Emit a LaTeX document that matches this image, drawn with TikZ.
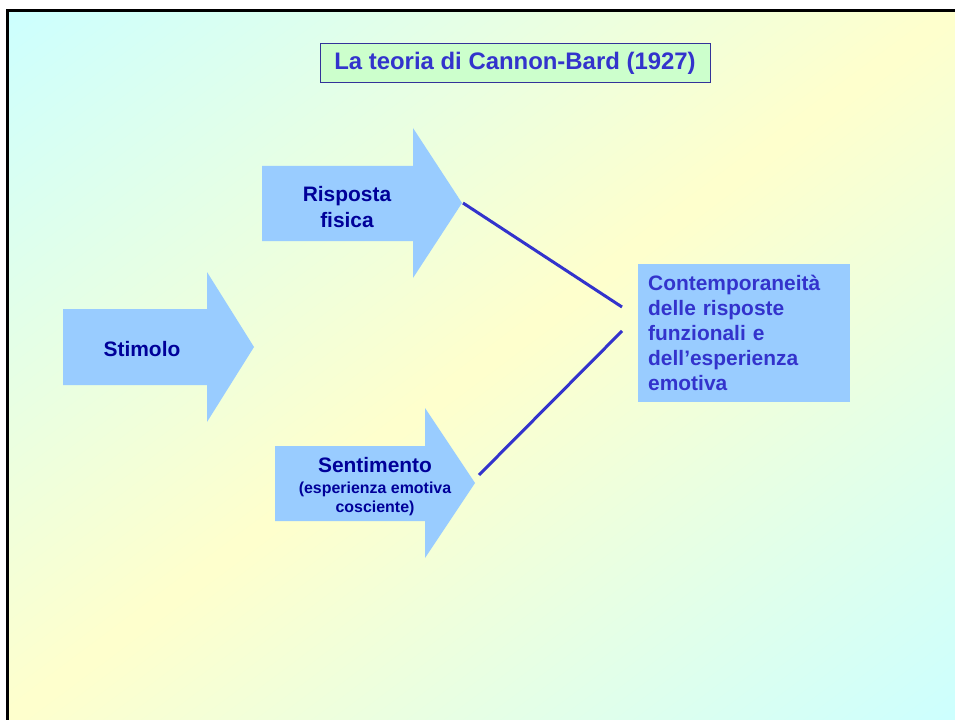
\documentclass[tikz,border=0pt]{standalone}
\usepackage{fontspec}
\setmainfont{Liberation Sans}
\definecolor{bgcyan}{RGB}{204,255,255}
\definecolor{bgyellow}{RGB}{255,255,204}
\definecolor{arrowblue}{RGB}{153,204,255}
\definecolor{navytext}{RGB}{0,0,153}
\definecolor{bluetext}{RGB}{51,51,204}
\definecolor{titlefill}{RGB}{204,255,204}
\definecolor{titleframe}{RGB}{51,51,153}
\tikzset{
  blockarrow/.style={fill=arrowblue, draw=none},
  arrowlabel/.style={text=navytext, font=\bfseries\fontsize{21}{25}\selectfont, align=center, inner sep=0pt},
  connector/.style={draw=bluetext, line width=3bp},
  titlebox/.style={fill=titlefill, draw=titleframe, line width=1bp, minimum width=390bp, minimum height=39bp, inner sep=0pt, text=bluetext, font=\bfseries\fontsize{24}{28}\selectfont},
  resultbox/.style={fill=arrowblue, draw=none, anchor=north west, minimum width=212bp, minimum height=138bp, text width=192bp, inner xsep=10bp, inner ysep=0pt, align=left, text=bluetext, font=\bfseries\fontsize{21}{25}\selectfont}
}
\begin{document}
\begin{tikzpicture}[x=1bp,y=-1bp]
\useasboundingbox (0,0) rectangle (955,720);
\fill[white] (0,0) rectangle (955,720);
% diagonal background gradient: cyan corners (top-left, bottom-right), yellow band along the anti-diagonal
\begin{scope}
  \clip (9,12) rectangle (955,720);
  \begin{scope}[shift={(9,12)}, x=946bp, y=-708bp]
    \foreach \k in {0,...,99}{
      \pgfmathsetmacro{\sa}{\k/50}
      \pgfmathsetmacro{\sb}{(\k+1.6)/50}
      \pgfmathsetmacro{\p}{100*(1-abs((\k+0.5)/50-1))}
      \fill[bgyellow!\p!bgcyan] (\sa+1,-1) -- (-1,\sa+1) -- (-1,\sb+1) -- (\sb+1,-1) -- cycle;
    }
  \end{scope}
\end{scope}
\draw[black, line width=2.5bp] (7.5,720) -- (7.5,10.7) -- (955,10.7);

% title
\node[titlebox] (title) at (515,63.5) {La teoria di Cannon-Bard (1927)};

% arrows
\fill[blockarrow] (63,309) -- (207,309) -- (207,272) -- (254,347) -- (207,422) -- (207,385) -- (63,385) -- cycle;
\node[arrowlabel] (stimolo) at (142,349) {Stimolo};

\fill[blockarrow] (262,166) -- (413,166) -- (413,128) -- (462,203) -- (413,278) -- (413,241) -- (262,241) -- cycle;
\node[arrowlabel] (risposta) at (347,207) {Risposta\\[1bp]fisica};

\fill[blockarrow] (275,446) -- (425,446) -- (425,408) -- (475,483) -- (425,558) -- (425,521) -- (275,521) -- cycle;
\node[arrowlabel, anchor=base] (sentimento) at (375,512) {Sentimento\\[-4bp]{\fontsize{16}{19}\selectfont (esperienza emotiva}\\[-6bp]{\fontsize{16}{19}\selectfont cosciente)}};

% result box
\node[resultbox] (result) at (638,264) {Contemporaneità\\delle risposte\\funzionali e\\dell’esperienza\\emotiva};

% connectors
\coordinate (c1s) at (463,203);
\coordinate (c1e) at (622,307);
\coordinate (c2s) at (479,475);
\coordinate (c2e) at (622,331);
\draw[connector] (c1s) -- (c1e);
\draw[connector] (c2s) -- (c2e);
\end{tikzpicture}
\end{document}
